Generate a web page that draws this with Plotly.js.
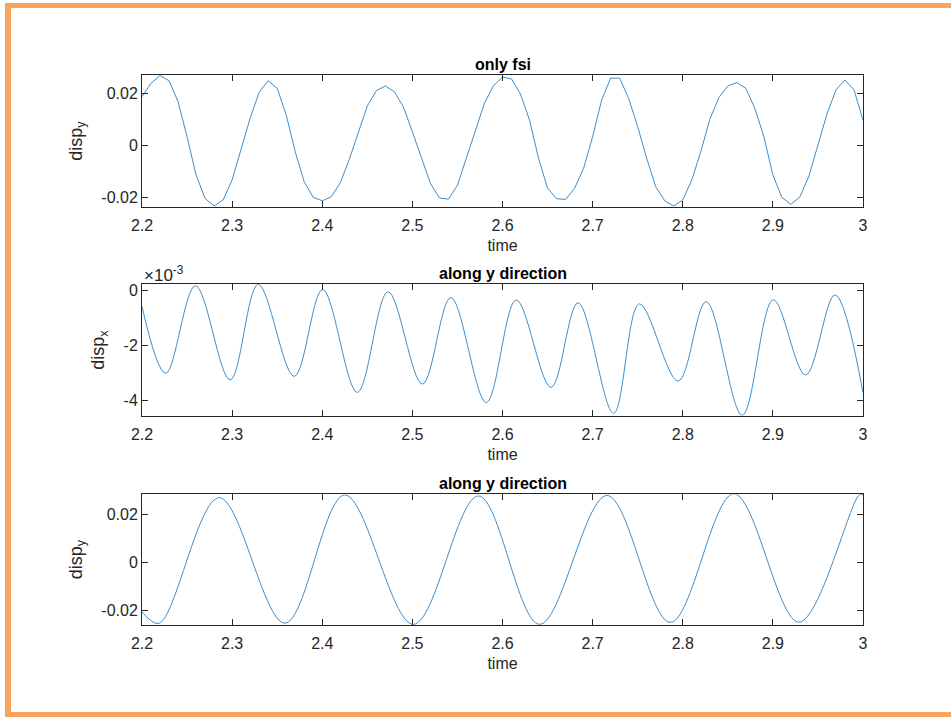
<!DOCTYPE html>
<html>
<head>
<meta charset="utf-8">
<script src="https://cdn.plot.ly/plotly-3.0.1.min.js"></script>
<style>
  html, body { margin:0; padding:0; background:#fff; overflow:hidden; }
  #chart { width:951px; height:720px; }
</style>
</head>
<body>
<div id="chart"></div>
<script>
// ---- Data ----
// Panel 1: "only fsi", sampled every 0.01 s from 2.20 to 3.00
const timeTop = [2.20,2.21,2.22,2.23,2.24,2.25,2.26,2.27,2.28,2.29,
  2.30,2.31,2.32,2.33,2.34,2.35,2.36,2.37,2.38,2.39,
  2.40,2.41,2.42,2.43,2.44,2.45,2.46,2.47,2.48,2.49,
  2.50,2.51,2.52,2.53,2.54,2.55,2.56,2.57,2.58,2.59,
  2.60,2.61,2.62,2.63,2.64,2.65,2.66,2.67,2.68,2.69,
  2.70,2.71,2.72,2.73,2.74,2.75,2.76,2.77,2.78,2.79,
  2.80,2.81,2.82,2.83,2.84,2.85,2.86,2.87,2.88,2.89,
  2.90,2.91,2.92,2.93,2.94,2.95,2.96,2.97,2.98,2.99,3.00];
const dispYTop = [0.0187,0.0238,0.0268,0.0248,0.0168,0.0033,-0.0114,-0.0204,-0.0233,-0.0210,
  -0.0133,-0.0018,0.0104,0.0204,0.0248,0.0219,0.0117,-0.0025,-0.0140,-0.0200,
  -0.0213,-0.0198,-0.0144,-0.0054,0.0052,0.0151,0.0210,0.0228,0.0206,0.0148,
  0.0052,-0.0050,-0.0146,-0.0202,-0.0207,-0.0153,-0.0050,0.0059,0.0162,0.0229,
  0.0262,0.0255,0.0197,0.0097,-0.0050,-0.0165,-0.0205,-0.0208,-0.0165,-0.0088,
  0.0033,0.0174,0.0258,0.0258,0.0180,0.0072,-0.0050,-0.0159,-0.0213,-0.0233,
  -0.0210,-0.0133,-0.0025,0.0100,0.0183,0.0228,0.0241,0.0219,0.0142,0.0033,
  -0.0114,-0.0200,-0.0227,-0.0198,-0.0118,0.0001,0.0120,0.0213,0.0251,0.0213,0.0097];

// Panel 2: "along y direction", disp_x in units of 1e-3 (start, extrema, end)
const timeMid = [2.2000,2.2263,2.2593,2.2978,2.3289,2.3689,2.4004,2.4389,2.4730,2.5111,
  2.5427,2.5820,2.6152,2.6538,2.6838,2.7233,2.7519,2.7949,2.8260,2.8660,
  2.9004,2.9363,2.9689,3.0000];
const dispXMid_e3 = [-0.60,-3.02,0.16,-3.26,0.21,-3.13,0.02,-3.71,-0.06,-3.41,
  -0.27,-4.08,-0.36,-3.53,-0.46,-4.47,-0.50,-3.30,-0.42,-4.54,
  -0.35,-3.08,-0.17,-3.72];

// Panel 3: "along y direction", disp_y (start, extrema, end)
const timeBot = [2.2000,2.2189,2.2856,2.3586,2.4250,2.5011,2.5733,2.6411,2.7160,2.7863,
  2.8567,2.9289,2.9960,3.0000];
const dispYBot = [-0.0206,-0.0254,0.0269,-0.0253,0.0280,-0.0258,0.0276,-0.0258,0.0278,-0.0250,
  0.0285,-0.0249,0.0281,0.0280];

const xTickVals = [2.2,2.3,2.4,2.5,2.6,2.7,2.8,2.9,3.0];
const xTickText = ['2.2','2.3','2.4','2.5','2.6','2.7','2.8','2.9','3'];
const yTickValsTop = [-0.02,0,0.02];
const yTickTextTop = ['-0.02','0','0.02'];
const yTickValsMid = [-4,-2,0];
const yTickTextMid = ['-4','-2','0'];
const yTickValsBot = [-0.02,0,0.02];
const yTickTextBot = ['-0.02','0','0.02'];
const panelTitles = ['only fsi','along y direction','along y direction'];
const yTitles = ['disp<sub>y</sub>','disp<sub>x</sub>','disp<sub>y</sub>'];
const xTitle = 'time';
const exponentLabel = '\u00d710<sup>-3</sup>';

// ---- Styling ----
const lineColor = '#3E8DC9';
const axColor = '#262626';
const borderColor = '#F9A35C';
const fontFam = '"Liberation Sans", Arial, Helvetica, sans-serif';

const traces = [
  {x: timeTop, y: dispYTop, xaxis:'x', yaxis:'y', type:'scatter', mode:'lines',
   line:{color:lineColor, width:1}, hoverinfo:'skip'},
  {x: timeMid, y: dispXMid_e3, xaxis:'x2', yaxis:'y2', type:'scatter', mode:'lines',
   line:{color:lineColor, width:1, shape:'spline', smoothing:1}, hoverinfo:'skip'},
  {x: timeBot, y: dispYBot, xaxis:'x3', yaxis:'y3', type:'scatter', mode:'lines',
   line:{color:lineColor, width:1, shape:'spline', smoothing:1}, hoverinfo:'skip'}
];

const domains = [[0.7125,0.8958],[0.4226,0.6051],[0.1319,0.3135]];
const yRanges = [[-0.0237,0.0270],[-4.56,0.21],[-0.0261,0.0283]];
const yTV = [yTickValsTop, yTickValsMid, yTickValsBot];
const yTT = [yTickTextTop, yTickTextMid, yTickTextBot];

function xAx(anchor){
  return {anchor:anchor, domain:[0,1], range:[2.2,3.0], tickvals:xTickVals, ticktext:xTickText,
    ticks:'inside', ticklen:6, tickwidth:1, tickcolor:axColor,
    showline:true, linecolor:axColor, linewidth:1, mirror:'allticks',
    showgrid:false, zeroline:false, fixedrange:true, ticklabelstandoff:4,
    tickfont:{family:fontFam, size:16, color:axColor},
    title:{text:xTitle, font:{family:fontFam, size:16, color:axColor}, standoff:6}};
}
function yAx(i, anchor){
  return {anchor:anchor, domain:domains[i], range:yRanges[i], tickvals:yTV[i], ticktext:yTT[i],
    ticks:'inside', ticklen:6, tickwidth:1, tickcolor:axColor,
    showline:true, linecolor:axColor, linewidth:1, mirror:'allticks',
    showgrid:false, zeroline:false, fixedrange:true,
    tickfont:{family:fontFam, size:16, color:axColor},
    title:{text:yTitles[i], font:{family:fontFam, size:18, color:axColor}, standoff:14}};
}

const annotations = [];
for (let i=0;i<3;i++){
  annotations.push({text:'<b>'+panelTitles[i]+'</b>', xref:'paper', yref:'paper',
    x:0.5, y:domains[i][1], xanchor:'center', yanchor:'bottom', yshift:0, showarrow:false,
    font:{family:fontFam, size:16, color:'#000'}});
}
annotations.push({text:exponentLabel, xref:'paper', yref:'paper', x:0, y:domains[1][1],
  xanchor:'left', yanchor:'bottom', yshift:-3, showarrow:false,
  font:{family:fontFam, size:17, color:axColor}});

// orange frame around the figure (paper coords; plot area spans px 142..863 horizontally)
function px2x(p){ return (p-142)/721; }
function py2y(p){ return 1 - p/720; }
const shapes = [
  {type:'rect', xref:'paper', yref:'paper', x0:px2x(5), x1:px2x(951), y0:py2y(8), y1:py2y(3),
   fillcolor:borderColor, line:{width:0}, layer:'above'},
  {type:'rect', xref:'paper', yref:'paper', x0:px2x(5), x1:px2x(11), y0:py2y(717), y1:py2y(3),
   fillcolor:borderColor, line:{width:0}, layer:'above'},
  {type:'rect', xref:'paper', yref:'paper', x0:px2x(5), x1:px2x(951), y0:py2y(717), y1:py2y(712),
   fillcolor:borderColor, line:{width:0}, layer:'above'}
];

const layout = {
  width:951, height:720,
  margin:{l:142, r:88, t:0, b:0, pad:0},
  paper_bgcolor:'#fff', plot_bgcolor:'#fff',
  showlegend:false,
  xaxis: xAx('y'), yaxis: yAx(0,'x'),
  xaxis2: xAx('y2'), yaxis2: yAx(1,'x2'),
  xaxis3: xAx('y3'), yaxis3: yAx(2,'x3'),
  annotations: annotations,
  shapes: shapes
};

Plotly.newPlot('chart', traces, layout, {displayModeBar:false, staticPlot:true});
</script>
</body>
</html>
